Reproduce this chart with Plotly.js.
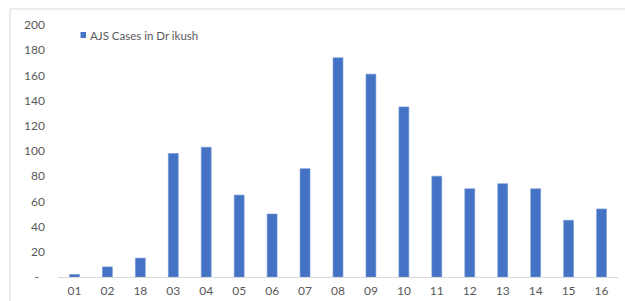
<!DOCTYPE html>
<html>
<head>
<meta charset="utf-8">
<script src="https://cdn.plot.ly/plotly-3.0.1.min.js"></script>
<style>html,body{margin:0;padding:0;background:#fff;}#chart{width:625px;height:301px;}</style>
</head>
<body>
<div id="chart"></div>
<script>
var categories = ['01','02','18','03','04','05','06','07','08','09','10','11','12','13','14','15','16'];
var cases = [2, 8, 15, 98, 103, 65, 50, 86, 174, 161, 135, 80, 70, 74, 70, 45, 54];
var seriesName = 'AJS Cases in Dr ikush';
var yTickVals = [0, 20, 40, 60, 80, 100, 120, 140, 160, 180, 200];
var yTickText = ['-  ', '20', '40', '60', '80', '100', '120', '140', '160', '180', '200'];

var barColor = '#4472C4';

var trace = {
  type: 'bar',
  x: categories,
  y: cases,
  name: seriesName,
  marker: {color: barColor, line: {color: '#6f93d3', width: 0.6}},
  showlegend: false,
  hoverinfo: 'x+y'
};

var font = {family: 'Lato, "Open Sans", sans-serif', size: 12, color: '#595959'};

var layout = {
  width: 625, height: 301,
  margin: {l: 58, r: 7, t: 25, b: 24, pad: 0},
  paper_bgcolor: '#ffffff', plot_bgcolor: '#ffffff',
  bargap: 0.7,
  font: font,
  showlegend: false,
  xaxis: {type: 'category', showgrid: false, zeroline: false, showline: true, linecolor: '#d9d9d9', linewidth: 1,
          ticks: '', tickfont: font, ticklabelstandoff: 3, fixedrange: true},
  yaxis: {range: [0, 200], showgrid: false, zeroline: false, showline: false, ticks: '',
          tickvals: yTickVals, ticktext: yTickText, tickfont: font, ticklabelstandoff: 12, fixedrange: true},
  annotations: [
    {xref: 'paper', yref: 'paper', x: 0.0536, y: 0.9603, xanchor: 'left', yanchor: 'middle',
     text: seriesName, showarrow: false,
     font: {family: 'Lato, "Open Sans", sans-serif', size: 11.5, color: '#595959'}}
  ],
  shapes: [
    {type: 'rect', xref: 'paper', yref: 'paper', x0: 0.0402, x1: 0.05, y0: 0.9484, y1: 0.9722,
     fillcolor: barColor, line: {width: 0}},
    {type: 'line', xref: 'paper', yref: 'paper', x0: -0.0857, x1: 1.2, y0: 1.0635, y1: 1.0635,
     line: {color: '#d9d9d9', width: 1}},
    {type: 'line', xref: 'paper', yref: 'paper', x0: -0.0857, x1: -0.0857, y0: 1.0635, y1: -0.2,
     line: {color: '#d9d9d9', width: 1}}
  ]
};

Plotly.newPlot('chart', [trace], layout, {displayModeBar: false, staticPlot: true});
</script>
</body>
</html>
